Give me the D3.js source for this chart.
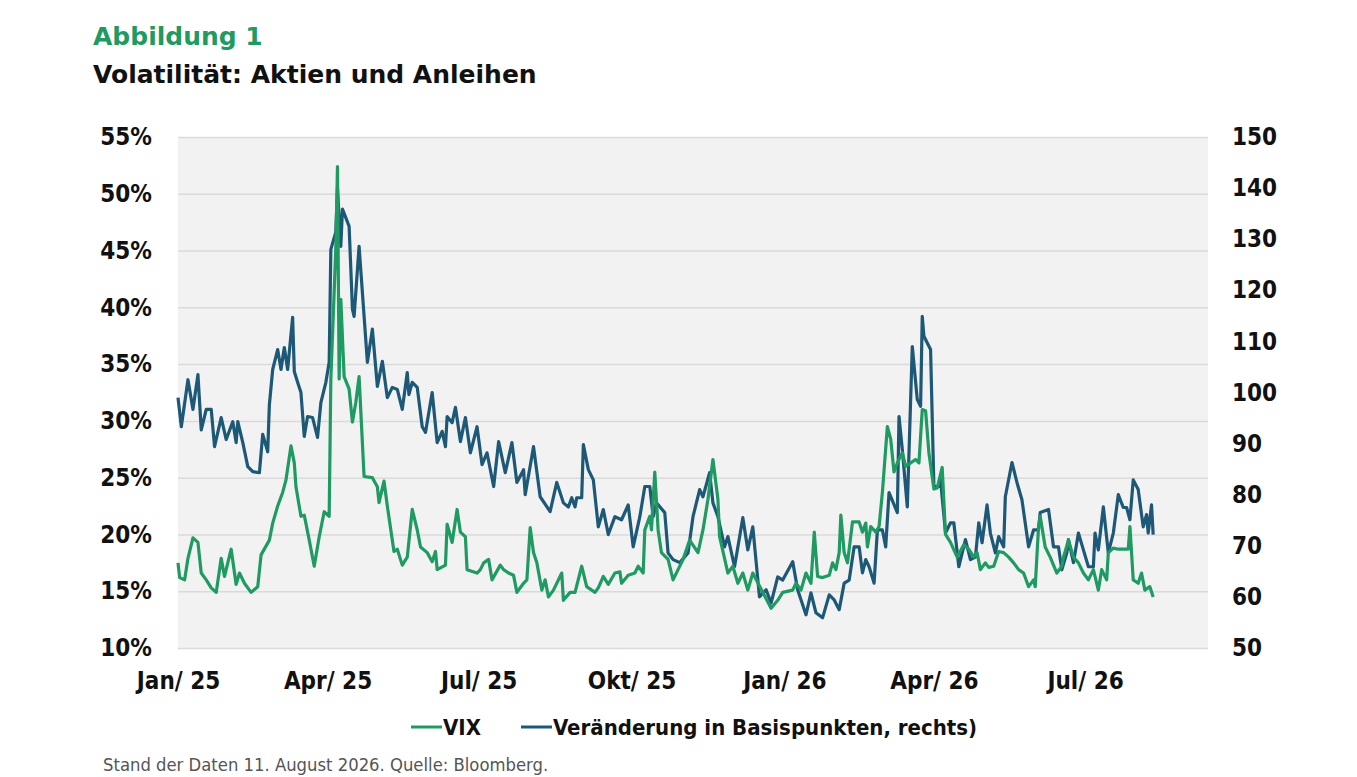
<!DOCTYPE html>
<html>
<head>
<meta charset="utf-8">
<script src="https://cdn.jsdelivr.net/npm/d3@7/dist/d3.min.js"></script>
<style>
  body { margin: 0; background: #fff; }
</style>
</head>
<body>
<div id="chart"></div>
<script>
// VIX in %, left axis
var vix = [
  ["2025-01-01",17.5],["2025-01-02",16.2],["2025-01-05",16.0],["2025-01-07",17.9],["2025-01-10",19.7],
  ["2025-01-13",19.3],["2025-01-15",16.6],["2025-01-18",16.0],["2025-01-21",15.3],["2025-01-24",14.9],
  ["2025-01-27",17.9],["2025-01-29",16.3],["2025-02-02",18.7],["2025-02-05",15.6],["2025-02-07",16.6],
  ["2025-02-10",15.7],["2025-02-14",14.9],["2025-02-18",15.4],["2025-02-20",18.2],["2025-02-25",19.5],
  ["2025-02-27",21.0],["2025-03-02",22.5],["2025-03-05",23.7],["2025-03-07",24.8],["2025-03-10",27.8],
  ["2025-03-12",26.3],["2025-03-13",24.2],["2025-03-16",21.6],["2025-03-18",21.7],["2025-03-21",19.5],
  ["2025-03-24",17.2],["2025-03-27",19.8],["2025-03-30",22.0],["2025-04-02",21.6],["2025-04-03",33.7],
  ["2025-04-06",45.2],["2025-04-07",52.4],["2025-04-08",33.7],["2025-04-09",40.7],["2025-04-11",33.9],
  ["2025-04-14",32.8],["2025-04-16",29.9],["2025-04-18",31.6],["2025-04-20",33.9],["2025-04-23",25.1],
  ["2025-04-28",25.0],["2025-05-01",24.2],["2025-05-02",22.8],["2025-05-05",24.7],["2025-05-07",22.5],
  ["2025-05-11",18.5],["2025-05-13",18.7],["2025-05-16",17.3],["2025-05-19",18.0],["2025-05-22",22.2],
  ["2025-05-25",20.4],["2025-05-27",18.9],["2025-05-31",18.4],["2025-06-03",17.6],["2025-06-05",18.5],
  ["2025-06-06",16.9],["2025-06-11",17.3],["2025-06-12",20.9],["2025-06-15",19.3],["2025-06-18",22.2],
  ["2025-06-20",20.2],["2025-06-23",19.8],["2025-06-24",16.9],["2025-06-30",16.6],["2025-07-02",16.9],
  ["2025-07-04",17.5],["2025-07-07",17.8],["2025-07-09",16.0],["2025-07-14",17.3],["2025-07-16",16.9],
  ["2025-07-19",16.6],["2025-07-22",16.4],["2025-07-24",14.9],["2025-07-28",15.7],["2025-07-30",16.0],
  ["2025-08-01",20.6],["2025-08-03",18.4],["2025-08-05",17.5],["2025-08-08",15.1],["2025-08-10",16.0],
  ["2025-08-12",14.5],["2025-08-15",15.1],["2025-08-20",16.6],["2025-08-21",14.2],["2025-08-25",14.9],
  ["2025-08-28",14.9],["2025-09-01",17.2],["2025-09-04",15.4],["2025-09-09",14.9],["2025-09-11",15.3],
  ["2025-09-14",16.3],["2025-09-17",15.6],["2025-09-21",16.6],["2025-09-24",16.7],["2025-09-25",15.7],
  ["2025-09-29",16.4],["2025-10-03",16.6],["2025-10-05",17.2],["2025-10-08",16.6],["2025-10-09",20.4],
  ["2025-10-12",21.6],["2025-10-13",20.4],["2025-10-15",25.5],["2025-10-17",20.4],["2025-10-19",18.4],
  ["2025-10-23",17.8],["2025-10-26",16.0],["2025-10-29",16.9],["2025-11-01",17.8],["2025-11-05",19.5],
  ["2025-11-10",18.4],["2025-11-13",20.4],["2025-11-16",23.1],["2025-11-19",26.6],["2025-11-22",23.1],
  ["2025-11-23",19.8],["2025-11-28",16.6],["2025-12-01",17.2],["2025-12-04",15.7],["2025-12-07",16.6],
  ["2025-12-10",15.1],["2025-12-13",16.6],["2025-12-19",14.9],["2025-12-24",13.5],["2025-12-28",14.2],
  ["2025-12-31",14.9],["2026-01-06",15.1],["2026-01-08",15.7],["2026-01-11",15.1],["2026-01-14",16.6],
  ["2026-01-17",15.7],["2026-01-19",20.2],["2026-01-21",16.3],["2026-01-24",16.2],["2026-01-28",16.4],
  ["2026-01-30",17.5],["2026-02-01",16.9],["2026-02-03",18.4],["2026-02-04",21.7],["2026-02-06",18.4],
  ["2026-02-08",17.5],["2026-02-11",21.1],["2026-02-15",21.1],["2026-02-17",20.2],["2026-02-19",21.0],
  ["2026-02-20",18.9],["2026-02-22",20.7],["2026-02-25",20.2],["2026-02-27",20.7],["2026-03-01",23.7],
  ["2026-03-04",29.5],["2026-03-06",28.4],["2026-03-08",25.5],["2026-03-10",26.3],["2026-03-13",27.2],
  ["2026-03-15",26.0],["2026-03-18",26.3],["2026-03-21",26.6],["2026-03-23",26.3],["2026-03-25",31.0],
  ["2026-03-27",30.9],["2026-03-29",27.2],["2026-04-01",24.0],["2026-04-03",24.1],["2026-04-06",25.9],
  ["2026-04-08",20.0],["2026-04-11",19.3],["2026-04-15",18.0],["2026-04-19",19.1],["2026-04-22",18.7],
  ["2026-04-25",18.0],["2026-04-27",18.4],["2026-04-29",16.9],["2026-05-02",17.5],["2026-05-04",17.1],
  ["2026-05-07",17.2],["2026-05-10",18.5],["2026-05-13",18.4],["2026-05-16",18.0],["2026-05-19",17.5],
  ["2026-05-22",16.9],["2026-05-25",16.6],["2026-05-28",15.4],["2026-05-31",16.0],["2026-06-01",15.4],
  ["2026-06-03",20.7],["2026-06-04",21.6],["2026-06-07",18.9],["2026-06-10",18.0],["2026-06-14",16.6],
  ["2026-06-17",17.2],["2026-06-18",18.0],["2026-06-21",19.5],["2026-06-24",18.0],["2026-06-27",17.5],
  ["2026-06-30",16.6],["2026-07-03",16.0],["2026-07-06",16.9],["2026-07-09",15.1],["2026-07-11",16.9],
  ["2026-07-14",16.0],["2026-07-15",18.4],["2026-07-18",18.8],["2026-07-21",18.7],["2026-07-24",18.7],
  ["2026-07-27",18.7],["2026-07-28",20.7],["2026-07-30",16.0],["2026-08-02",15.7],["2026-08-04",16.6],
  ["2026-08-06",15.1],["2026-08-09",15.4],["2026-08-11",14.5]
];

// Veränderung in Basispunkten, right axis
var bp = [
  ["2025-01-01",99.0],["2025-01-03",93.3],["2025-01-07",102.5],["2025-01-10",96.7],["2025-01-13",103.5],
  ["2025-01-15",92.7],["2025-01-18",96.7],["2025-01-21",96.7],["2025-01-23",89.4],["2025-01-27",95.1],
  ["2025-01-30",90.8],["2025-02-03",94.3],["2025-02-05",90.2],["2025-02-06",94.3],["2025-02-09",90.2],
  ["2025-02-12",85.5],["2025-02-15",84.5],["2025-02-19",84.3],["2025-02-21",91.8],["2025-02-24",88.4],
  ["2025-02-25",97.6],["2025-02-27",104.5],["2025-03-02",108.4],["2025-03-04",104.5],["2025-03-06",108.8],
  ["2025-03-08",104.5],["2025-03-11",114.7],["2025-03-12",104.1],["2025-03-14",102.0],["2025-03-16",100.0],
  ["2025-03-18",91.4],["2025-03-20",95.3],["2025-03-23",95.1],["2025-03-26",91.2],["2025-03-28",98.0],
  ["2025-03-31",102.0],["2025-04-02",105.9],["2025-04-03",128.0],["2025-04-06",131.4],["2025-04-07",139.8],
  ["2025-04-09",128.6],["2025-04-10",135.9],["2025-04-14",132.5],["2025-04-16",116.3],["2025-04-17",114.9],
  ["2025-04-20",128.6],["2025-04-25",105.9],["2025-04-28",112.4],["2025-05-01",101.2],["2025-05-04",106.1],
  ["2025-05-07",99.0],["2025-05-10",101.0],["2025-05-13",100.6],["2025-05-16",96.7],["2025-05-19",103.9],
  ["2025-05-20",99.6],["2025-05-22",102.0],["2025-05-25",101.0],["2025-05-28",93.3],["2025-05-30",92.2],
  ["2025-06-03",100.0],["2025-06-06",90.2],["2025-06-09",92.4],["2025-06-11",89.4],["2025-06-12",95.3],
  ["2025-06-15",94.1],["2025-06-17",97.1],["2025-06-20",90.4],["2025-06-23",95.1],["2025-06-26",88.2],
  ["2025-06-30",93.3],["2025-07-03",85.9],["2025-07-06",88.2],["2025-07-10",81.6],["2025-07-13",90.4],
  ["2025-07-17",84.3],["2025-07-21",90.2],["2025-07-24",82.4],["2025-07-28",84.9],["2025-07-29",80.0],
  ["2025-08-03",89.4],["2025-08-07",79.6],["2025-08-13",76.7],["2025-08-17",82.4],["2025-08-21",78.4],
  ["2025-08-24",77.6],["2025-08-26",79.4],["2025-08-28",77.6],["2025-08-29",79.4],["2025-09-01",79.4],
  ["2025-09-02",89.8],["2025-09-05",84.9],["2025-09-08",82.9],["2025-09-11",73.7],["2025-09-14",77.1],
  ["2025-09-17",72.2],["2025-09-21",75.7],["2025-09-25",75.1],["2025-09-29",78.0],["2025-10-02",69.8],
  ["2025-10-06",75.7],["2025-10-09",81.6],["2025-10-12",81.6],["2025-10-14",75.7],["2025-10-16",78.4],
  ["2025-10-21",76.5],["2025-10-23",68.6],["2025-10-26",67.3],["2025-10-30",66.7],["2025-11-04",68.6],
  ["2025-11-07",75.7],["2025-11-11",81.0],["2025-11-13",79.6],["2025-11-17",84.3],["2025-11-19",78.4],
  ["2025-11-22",75.7],["2025-11-26",69.8],["2025-11-28",71.8],["2025-12-02",65.9],["2025-12-07",75.5],
  ["2025-12-10",69.2],["2025-12-13",73.7],["2025-12-17",60.0],["2025-12-21",61.4],["2025-12-24",58.8],
  ["2025-12-28",63.9],["2025-12-31",63.3],["2026-01-06",66.9],["2026-01-09",61.4],["2026-01-14",56.5],
  ["2026-01-17",60.8],["2026-01-20",56.9],["2026-01-24",55.9],["2026-01-28",60.4],["2026-01-31",59.4],
  ["2026-02-03",57.5],["2026-02-06",62.7],["2026-02-09",63.3],["2026-02-12",69.8],["2026-02-15",69.8],
  ["2026-02-17",64.7],["2026-02-19",67.3],["2026-02-21",65.9],["2026-02-24",62.7],["2026-02-26",73.1],
  ["2026-03-01",73.1],["2026-03-03",69.8],["2026-03-05",80.4],["2026-03-10",76.5],["2026-03-11",95.3],
  ["2026-03-13",88.8],["2026-03-16",77.6],["2026-03-19",109.0],["2026-03-22",98.6],["2026-03-24",97.3],
  ["2026-03-25",114.9],["2026-03-26",111.0],["2026-03-30",108.4],["2026-04-01",81.6],["2026-04-04",81.6],
  ["2026-04-05",82.9],["2026-04-08",72.5],["2026-04-11",74.5],["2026-04-13",74.5],["2026-04-16",65.9],
  ["2026-04-20",71.2],["2026-04-23",67.3],["2026-04-26",67.8],["2026-04-28",74.5],["2026-04-30",70.6],
  ["2026-05-03",78.0],["2026-05-05",72.5],["2026-05-08",68.6],["2026-05-10",71.8],["2026-05-13",69.8],
  ["2026-05-14",79.6],["2026-05-18",86.3],["2026-05-21",82.4],["2026-05-24",79.0],["2026-05-28",69.8],
  ["2026-05-31",73.1],["2026-06-03",73.1],["2026-06-04",76.5],["2026-06-09",77.1],["2026-06-12",69.8],
  ["2026-06-15",69.8],["2026-06-17",65.3],["2026-06-20",68.6],["2026-06-21",71.2],["2026-06-24",66.7],
  ["2026-06-27",72.5],["2026-06-30",69.2],["2026-07-03",65.9],["2026-07-06",65.9],["2026-07-07",72.5],
  ["2026-07-09",69.2],["2026-07-12",77.6],["2026-07-15",68.6],["2026-07-18",72.5],["2026-07-21",80.0],
  ["2026-07-24",77.5],["2026-07-26",77.5],["2026-07-28",75.1],["2026-07-30",82.9],["2026-08-02",81.0],
  ["2026-08-05",73.7],["2026-08-07",76.1],["2026-08-08",72.5],["2026-08-10",78.0],["2026-08-11",72.2]
];

var leftTicks = [10, 15, 20, 25, 30, 35, 40, 45, 50, 55];
var rightTicks = [50, 60, 70, 80, 90, 100, 110, 120, 130, 140, 150];
var xTicks = ["2025-01-01","2025-04-01","2025-07-01","2025-10-01","2026-01-01","2026-04-01","2026-07-01"];
var xTickLabels = ["Jan/ 25","Apr/ 25","Jul/ 25","Okt/ 25","Jan/ 26","Apr/ 26","Jul/ 26"];

var green = "#1f9a62", blue = "#1d5876";
var font = "'DejaVu Sans Condensed', 'DejaVu Sans', sans-serif";
var parse = d3.timeParse("%Y-%m-%d");

var width = 1357, height = 777;
var m = {left: 178, right: 1208, top: 137, bottom: 648};

var svg = d3.select("#chart").append("svg")
  .attr("width", width)
  .attr("height", height)
  .style("font-family", font);

svg.append("text")
  .attr("x", 93).attr("y", 45)
  .style("font-family", "'DejaVu Sans', sans-serif")
  .style("font-weight", "bold")
  .style("font-size", "25px")
  .style("fill", green)
  .text("Abbildung 1");

svg.append("text")
  .attr("x", 93).attr("y", 83)
  .style("font-family", "'DejaVu Sans', sans-serif")
  .style("font-weight", "bold")
  .style("font-size", "25px")
  .style("fill", "#111")
  .text("Volatilität: Aktien und Anleihen");

var x = d3.scaleTime()
  .domain([parse("2025-01-01"), parse("2026-09-13")])
  .range([m.left, m.right]);
var yL = d3.scaleLinear().domain([10, 55]).range([m.bottom, m.top]);
var yR = d3.scaleLinear().domain([50, 150]).range([m.bottom, m.top]);

svg.append("rect")
  .attr("x", m.left).attr("y", m.top)
  .attr("width", m.right - m.left).attr("height", m.bottom - m.top)
  .style("fill", "#f2f2f2");

// gridlines from left axis
svg.append("g")
  .attr("transform", "translate(" + m.left + ",0)")
  .call(d3.axisLeft(yL).tickValues(leftTicks).tickSize(-(m.right - m.left)).tickFormat(""))
  .call(function (g) {
    g.select(".domain").remove();
    g.selectAll("line").style("stroke", "#dadada").style("stroke-width", 1.5);
  });

var axisText = function (g) {
  g.select(".domain").remove();
  g.selectAll("line").remove();
  g.selectAll("text")
    .style("font-family", font)
    .style("font-weight", "bold")
    .style("font-size", "24px")
    .style("fill", "#111");
};

svg.append("g")
  .attr("transform", "translate(" + (m.left - 26) + ",0)")
  .call(d3.axisLeft(yL).tickValues(leftTicks).tickSize(0).tickPadding(0)
    .tickFormat(function (d) { return d + "%"; }))
  .call(axisText);

svg.append("g")
  .attr("transform", "translate(" + (m.right + 24) + ",0)")
  .call(d3.axisRight(yR).tickValues(rightTicks).tickSize(0).tickPadding(0))
  .call(axisText);

svg.append("g")
  .attr("transform", "translate(0," + (m.bottom + 24) + ")")
  .call(d3.axisBottom(x).tickValues(xTicks.map(parse)).tickSize(0).tickPadding(0)
    .tickFormat(function (d, i) { return xTickLabels[i]; }))
  .call(axisText);

var lineL = d3.line()
  .x(function (d) { return x(parse(d[0])); })
  .y(function (d) { return yL(d[1]); });
var lineR = d3.line()
  .x(function (d) { return x(parse(d[0])); })
  .y(function (d) { return yR(d[1]); });

svg.append("path")
  .datum(bp)
  .attr("d", lineR)
  .style("fill", "none")
  .style("stroke", blue)
  .style("stroke-width", 3.2)
  .style("stroke-linejoin", "round");

svg.append("path")
  .datum(vix)
  .attr("d", lineL)
  .style("fill", "none")
  .style("stroke", green)
  .style("stroke-width", 3.2)
  .style("stroke-linejoin", "round");

// legend
var legend = [
  {label: "VIX", color: green, x: 411},
  {label: "Veränderung in Basispunkten, rechts)", color: blue, x: 521}
];
var lg = svg.selectAll(".legend")
  .data(legend)
  .enter()
    .append("g")
    .attr("transform", function (d) { return "translate(" + d.x + ",727)"; });
lg.append("line")
  .attr("x1", 0).attr("x2", 31)
  .style("stroke", function (d) { return d.color; })
  .style("stroke-width", 3);
lg.append("text")
  .attr("x", 32).attr("dy", "0.35em")
  .style("font-weight", "bold")
  .style("font-size", "22px")
  .style("fill", "#111")
  .text(function (d) { return d.label; });

svg.append("text")
  .attr("x", 103).attr("y", 771)
  .style("font-size", "18.3px")
  .style("fill", "#555")
  .text("Stand der Daten 11. August 2026. Quelle: Bloomberg.");
</script>
</body>
</html>
